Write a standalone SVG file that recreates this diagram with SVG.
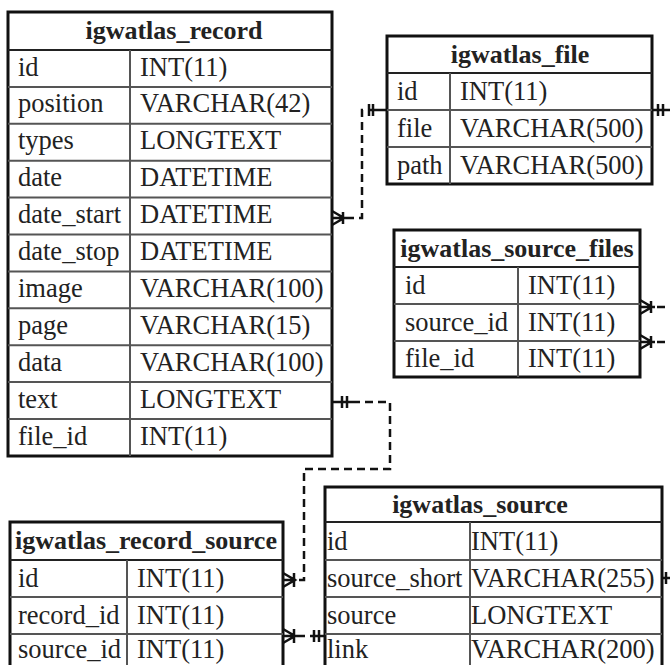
<svg xmlns="http://www.w3.org/2000/svg" width="670" height="665" viewBox="0 0 670 665">
<style>
.bg{fill:#ffffff}
.box{fill:#ffffff;stroke:#111;stroke-width:3}
.ln{stroke:#555;stroke-width:2;fill:none}
.hd{stroke:#222;stroke-width:2;fill:none}
.t{font-family:"Liberation Serif","Times New Roman",serif;font-size:26.5px;fill:#222}
.h{font-family:"Liberation Serif","Times New Roman",serif;font-size:26px;font-weight:bold;fill:#222;text-anchor:middle}
.c{stroke:#111;stroke-width:2.5;fill:none}
.d{stroke:#111;stroke-width:2.5;fill:none;stroke-dasharray:8 5}
</style>
<rect class="bg" x="0" y="0" width="670" height="665"/>

<g id="connectors">
  <!-- record.text -> record_source.id -->
  <path class="c" d="M332 402 H352 M342 396 V408 M347 396 V408"/>
  <path class="d" d="M352 402 H390 V469 H304 V580 H296"/>
  <path class="c" d="M296 580 H283 M283 573 L295 580 L283 587 M294 573 V587"/>
  <!-- record_source -> source -->
  <path class="c" d="M283 636 H297 M283 629 L295 636 L283 643 M294 629 V643"/>
  <path class="d" d="M297 636 H310"/>
  <path class="c" d="M310 636 H325 M314 630 V642 M319 630 V642"/>
  <!-- file -> record.date_start -->
  <path class="c" d="M387 110 H376 M369 104 V116 M373 104 V116"/>
  <path class="d" d="M376 110 H362 V218 H346"/>
  <path class="c" d="M346 218 H332 M332 211 L344 218 L332 225 M343 212 V224"/>
  <!-- right edge stubs -->
  <path class="c" d="M652 110 H670 M658 104 V116 M663 104 V116"/>
  <path class="c" d="M640 307 H655 M640 300 L652 307 L640 314 M651 301 V313"/>
  <path class="d" d="M657 307 H670"/>
  <path class="c" d="M640 342 H655 M640 335 L652 342 L640 349 M651 336 V348"/>
  <path class="d" d="M657 342 H670"/>
  <path class="c" d="M662 578 H670 M666 572 V584"/>
</g>

<g id="igwatlas_record">
  <rect class="box" x="8" y="12" width="324" height="444"/>
  <path class="hd" d="M8 50 H332"/>
  <path class="ln" d="M130 50 V456 M8 86.9 H332 M8 123.8 H332 M8 160.7 H332 M8 197.6 H332 M8 234.5 H332 M8 271.4 H332 M8 308.3 H332 M8 345.2 H332 M8 382.1 H332 M8 419 H332"/>
  <text class="h" x="174" y="39">igwatlas_record</text>
  <text class="t" x="18" y="75.5">id</text><text class="t" x="140" y="75.5">INT(11)</text>
  <text class="t" x="18" y="112.4">position</text><text class="t" x="140" y="112.4">VARCHAR(42)</text>
  <text class="t" x="18" y="149.3">types</text><text class="t" x="140" y="149.3">LONGTEXT</text>
  <text class="t" x="18" y="186.2">date</text><text class="t" x="140" y="186.2">DATETIME</text>
  <text class="t" x="18" y="223.1">date_start</text><text class="t" x="140" y="223.1">DATETIME</text>
  <text class="t" x="18" y="260">date_stop</text><text class="t" x="140" y="260">DATETIME</text>
  <text class="t" x="18" y="296.9">image</text><text class="t" x="140" y="296.9">VARCHAR(100)</text>
  <text class="t" x="18" y="333.8">page</text><text class="t" x="140" y="333.8">VARCHAR(15)</text>
  <text class="t" x="18" y="370.7">data</text><text class="t" x="140" y="370.7">VARCHAR(100)</text>
  <text class="t" x="18" y="407.6">text</text><text class="t" x="140" y="407.6">LONGTEXT</text>
  <text class="t" x="18" y="444.5">file_id</text><text class="t" x="140" y="444.5">INT(11)</text>
</g>

<g id="igwatlas_file">
  <rect class="box" x="387" y="36" width="265" height="148"/>
  <path class="hd" d="M387 73 H652"/>
  <path class="ln" d="M450 73 V184 M387 110 H652 M387 147 H652"/>
  <text class="h" x="520" y="63">igwatlas_file</text>
  <text class="t" x="397" y="100">id</text><text class="t" x="460" y="100">INT(11)</text>
  <text class="t" x="397" y="137">file</text><text class="t" x="460" y="137">VARCHAR(500)</text>
  <text class="t" x="397" y="174">path</text><text class="t" x="460" y="174">VARCHAR(500)</text>
</g>

<g id="igwatlas_source_files">
  <rect class="box" x="394" y="230" width="246" height="147"/>
  <path class="hd" d="M394 267 H640"/>
  <path class="ln" d="M518 267 V377 M394 304 H640 M394 341 H640"/>
  <text class="h" x="517" y="257">igwatlas_source_files</text>
  <text class="t" x="405" y="294">id</text><text class="t" x="528" y="294">INT(11)</text>
  <text class="t" x="405" y="331">source_id</text><text class="t" x="528" y="331">INT(11)</text>
  <text class="t" x="405" y="367">file_id</text><text class="t" x="528" y="367">INT(11)</text>
</g>

<g id="igwatlas_record_source">
  <rect class="box" x="10" y="522" width="273" height="150"/>
  <path class="hd" d="M10 560 H283"/>
  <path class="ln" d="M127 560 V672 M10 597 H283 M10 634 H283"/>
  <text class="h" x="146" y="549">igwatlas_record_source</text>
  <text class="t" x="18" y="587">id</text><text class="t" x="137" y="587">INT(11)</text>
  <text class="t" x="18" y="624">record_id</text><text class="t" x="137" y="624">INT(11)</text>
  <text class="t" x="18" y="658">source_id</text><text class="t" x="137" y="658">INT(11)</text>
</g>

<g id="igwatlas_source">
  <rect class="box" x="325" y="487" width="337" height="185"/>
  <path class="hd" d="M325 522 H662"/>
  <path class="ln" d="M470 522 V672 M325 560 H662 M325 597 H662 M325 634 H662"/>
  <text class="h" x="480" y="513">igwatlas_source</text>
  <text class="t" x="327" y="550">id</text><text class="t" x="471" y="550">INT(11)</text>
  <text class="t" x="327" y="587">source_short</text><text class="t" x="471" y="587">VARCHAR(255)</text>
  <text class="t" x="327" y="624">source</text><text class="t" x="471" y="624">LONGTEXT</text>
  <text class="t" x="327" y="658">link</text><text class="t" x="471" y="658">VARCHAR(200)</text>
</g>
</svg>
